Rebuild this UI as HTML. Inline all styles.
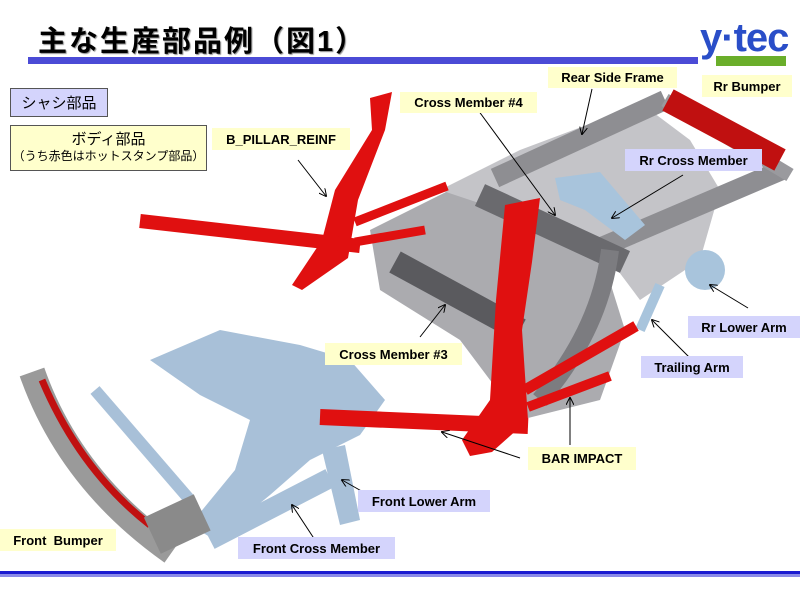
<!DOCTYPE html>
<html><head><meta charset="utf-8"><style>
body{margin:0;width:800px;height:600px;background:#fff;overflow:hidden;position:relative;font-family:"Liberation Sans","Noto Sans CJK JP",sans-serif}
.l{position:absolute;font-weight:bold;font-size:13px;color:#000;display:flex;align-items:center;justify-content:center;white-space:nowrap}
.y{background:#ffffcc}.p{background:#d4d4fc}
</style></head><body>
<svg width="800" height="600" style="position:absolute;left:0;top:0">
<defs><marker id="a" markerWidth="8" markerHeight="8" refX="7" refY="4" orient="auto"><path d="M0,0 L8,4 L0,8" fill="none" stroke="#000" stroke-width="1"/></marker></defs>
<rect x="28" y="57" width="670" height="7" fill="#4b4bd6"/>
<rect x="0" y="571" width="800" height="3" fill="#1a1ad0"/>
<rect x="0" y="574" width="800" height="3" fill="#8a8ae8"/>
<rect x="716" y="56" width="70" height="10" fill="#6aae2a"/>
<!-- gray rear frame -->
<polygon points="370,230 470,180 530,195 600,250 625,330 600,400 520,420 460,340 380,290" fill="#ababaf"/>
<polygon points="440,190 520,150 600,120 650,110 690,140 720,190 700,260 640,300 610,260 560,220 500,210" fill="#c4c4c8"/>
<line x1="495" y1="178" x2="665" y2="100" stroke="#8e8e92" stroke-width="20"/>
<line x1="590" y1="252" x2="782" y2="170" stroke="#8e8e92" stroke-width="20"/>
<line x1="665" y1="100" x2="790" y2="175" stroke="#9a9a9e" stroke-width="14"/>
<line x1="480" y1="195" x2="625" y2="262" stroke="#6a6a6e" stroke-width="24"/>
<line x1="395" y1="262" x2="520" y2="330" stroke="#5a5a5e" stroke-width="24"/>
<path d="M610,250 Q600,330 540,400" stroke="#7c7c80" stroke-width="18" fill="none"/>
<polygon points="555,178 600,172 645,225 625,240 585,210 560,200" fill="#a8c4dc"/>
<circle cx="705" cy="270" r="20" fill="#a8c4dc"/>
<line x1="660" y1="285" x2="640" y2="330" stroke="#a8c4dc" stroke-width="10"/>
<line x1="668" y1="100" x2="780" y2="160" stroke="#c01010" stroke-width="24"/>
<!-- red left pillar -->
<polygon points="370,98 392,92 385,130 358,200 348,258 302,290 292,285 322,240 335,190 372,130" fill="#e01010"/>
<line x1="140" y1="221" x2="360" y2="246" stroke="#e01010" stroke-width="14"/>
<line x1="355" y1="222" x2="447" y2="186" stroke="#e01010" stroke-width="9"/>
<line x1="355" y1="242" x2="425" y2="230" stroke="#e01010" stroke-width="9"/>
<!-- blue front subframe -->
<line x1="95" y1="390" x2="190" y2="500" stroke="#a8c0d8" stroke-width="12"/>
<polygon points="150,360 220,330 300,345 350,360 385,400 360,435 310,460 270,495 215,540 190,525 235,470 250,420 200,395" fill="#a8c0d8"/>
<line x1="210" y1="540" x2="330" y2="478" stroke="#a8c0d8" stroke-width="20"/>
<polygon points="322,450 345,445 360,520 340,525" fill="#a8c0d8"/>
<path d="M32,372 Q70,480 172,552" stroke="#9a9a9a" stroke-width="26" fill="none"/>
<path d="M42,380 Q80,470 150,525" stroke="#c01010" stroke-width="7" fill="none"/>
<rect x="150" y="505" width="55" height="40" fill="#8a8a8a" transform="rotate(-25 175 525)"/>
<!-- red right pillar -->
<polygon points="505,205 540,198 532,262 522,330 528,420 492,452 470,456 462,440 490,400 496,300" fill="#e01010"/>
<line x1="320" y1="417" x2="528" y2="426" stroke="#e01010" stroke-width="16"/>
<line x1="525" y1="390" x2="636" y2="326" stroke="#e01010" stroke-width="11"/>
<line x1="528" y1="407" x2="610" y2="376" stroke="#e01010" stroke-width="10"/>
<!-- leaders -->
<g stroke="#000" stroke-width="1" marker-end="url(#a)">
<line x1="298" y1="160" x2="326" y2="196"/>
<line x1="478" y1="110" x2="555" y2="215"/>
<line x1="592" y1="89" x2="582" y2="134"/>
<line x1="683" y1="175" x2="612" y2="218"/>
<line x1="748" y1="308" x2="710" y2="285"/>
<line x1="690" y1="358" x2="652" y2="320"/>
<line x1="420" y1="337" x2="445" y2="305"/>
<line x1="570" y1="445" x2="570" y2="398"/>
<line x1="520" y1="458" x2="442" y2="432"/>
<line x1="372" y1="497" x2="342" y2="480"/>
<line x1="315" y1="540" x2="292" y2="505"/>
</g>
</svg>
<div style="position:absolute;left:38px;top:18px;font-size:29px;font-weight:bold;letter-spacing:2px;text-shadow:1px 1px 1px #888">主な生産部品例（図1）</div>
<div style="position:absolute;left:700px;top:18px;font-size:40px;font-weight:bold;color:#2a4ec8;letter-spacing:-1px;line-height:40px">y·tec</div>
<div class="l p" style="left:10px;top:88px;width:96px;height:27px;border:1px solid #555;font-weight:normal;font-size:15px">シャシ部品</div>
<div class="l y" style="left:10px;top:125px;width:195px;height:44px;border:1px solid #555;font-weight:normal;flex-direction:column;font-size:15px;line-height:17px">ボディ部品<span style="font-size:12px">（うち赤色はホットスタンプ部品）</span></div>
<div class="l y" style="left:548px;top:67px;width:129px;height:21px">Rear Side Frame</div>
<div class="l y" style="left:702px;top:75px;width:90px;height:22px">Rr Bumper</div>
<div class="l y" style="left:400px;top:92px;width:137px;height:21px">Cross Member #4</div>
<div class="l y" style="left:212px;top:128px;width:138px;height:22px">B_PILLAR_REINF</div>
<div class="l p" style="left:625px;top:149px;width:137px;height:22px">Rr Cross Member</div>
<div class="l p" style="left:688px;top:316px;width:112px;height:22px">Rr Lower Arm</div>
<div class="l y" style="left:325px;top:343px;width:137px;height:22px">Cross Member #3</div>
<div class="l p" style="left:641px;top:356px;width:102px;height:22px">Trailing Arm</div>
<div class="l y" style="left:528px;top:447px;width:108px;height:23px">BAR IMPACT</div>
<div class="l p" style="left:358px;top:490px;width:132px;height:22px">Front Lower Arm</div>
<div class="l y" style="left:0px;top:529px;width:116px;height:22px">Front&nbsp; Bumper</div>
<div class="l p" style="left:238px;top:537px;width:157px;height:22px">Front Cross Member</div>
</body></html>
